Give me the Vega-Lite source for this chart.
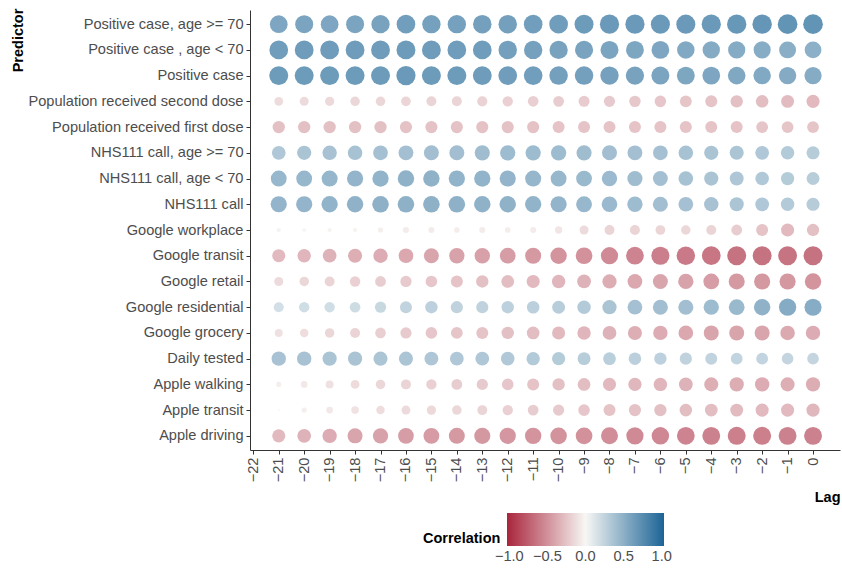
{
  "$schema": "https://vega.github.io/schema/vega-lite/v6.json",
  "autosize": "none",
  "width": 590,
  "height": 440,
  "padding": {"left": 250, "top": 10, "right": 2, "bottom": 118},
  "background": "white",
  "config": {
    "view": {"stroke": null},
    "font": "Liberation Sans",
    "axis": {"grid": false, "labelFont": "Liberation Sans", "labelFontSize": 14.6, "labelColor": "#4D4D4D", "labelLimit": 400, "tickColor": "#333333", "domainColor": "#333333", "tickSize": 4, "titleFont": "Liberation Sans", "titleFontSize": 14.5, "titleFontWeight": "bold", "titleColor": "#000000"}
  },
  "data": {"values": [
{"p":"Positive case, age >= 70","lag":-21,"r":0.70},{"p":"Positive case, age >= 70","lag":-20,"r":0.72},{"p":"Positive case, age >= 70","lag":-19,"r":0.70},{"p":"Positive case, age >= 70","lag":-18,"r":0.72},{"p":"Positive case, age >= 70","lag":-17,"r":0.74},{"p":"Positive case, age >= 70","lag":-16,"r":0.77},{"p":"Positive case, age >= 70","lag":-15,"r":0.75},{"p":"Positive case, age >= 70","lag":-14,"r":0.75},{"p":"Positive case, age >= 70","lag":-13,"r":0.76},{"p":"Positive case, age >= 70","lag":-12,"r":0.76},{"p":"Positive case, age >= 70","lag":-11,"r":0.77},{"p":"Positive case, age >= 70","lag":-10,"r":0.78},{"p":"Positive case, age >= 70","lag":-9,"r":0.80},{"p":"Positive case, age >= 70","lag":-8,"r":0.82},{"p":"Positive case, age >= 70","lag":-7,"r":0.82},{"p":"Positive case, age >= 70","lag":-6,"r":0.81},{"p":"Positive case, age >= 70","lag":-5,"r":0.81},{"p":"Positive case, age >= 70","lag":-4,"r":0.82},{"p":"Positive case, age >= 70","lag":-3,"r":0.83},{"p":"Positive case, age >= 70","lag":-2,"r":0.84},{"p":"Positive case, age >= 70","lag":-1,"r":0.86},{"p":"Positive case, age >= 70","lag":0,"r":0.86},
{"p":"Positive case , age < 70","lag":-21,"r":0.78},{"p":"Positive case , age < 70","lag":-20,"r":0.79},{"p":"Positive case , age < 70","lag":-19,"r":0.79},{"p":"Positive case , age < 70","lag":-18,"r":0.79},{"p":"Positive case , age < 70","lag":-17,"r":0.79},{"p":"Positive case , age < 70","lag":-16,"r":0.80},{"p":"Positive case , age < 70","lag":-15,"r":0.79},{"p":"Positive case , age < 70","lag":-14,"r":0.78},{"p":"Positive case , age < 70","lag":-13,"r":0.78},{"p":"Positive case , age < 70","lag":-12,"r":0.76},{"p":"Positive case , age < 70","lag":-11,"r":0.75},{"p":"Positive case , age < 70","lag":-10,"r":0.74},{"p":"Positive case , age < 70","lag":-9,"r":0.73},{"p":"Positive case , age < 70","lag":-8,"r":0.72},{"p":"Positive case , age < 70","lag":-7,"r":0.71},{"p":"Positive case , age < 70","lag":-6,"r":0.70},{"p":"Positive case , age < 70","lag":-5,"r":0.68},{"p":"Positive case , age < 70","lag":-4,"r":0.67},{"p":"Positive case , age < 70","lag":-3,"r":0.66},{"p":"Positive case , age < 70","lag":-2,"r":0.65},{"p":"Positive case , age < 70","lag":-1,"r":0.64},{"p":"Positive case , age < 70","lag":0,"r":0.62},
{"p":"Positive case","lag":-21,"r":0.80},{"p":"Positive case","lag":-20,"r":0.80},{"p":"Positive case","lag":-19,"r":0.80},{"p":"Positive case","lag":-18,"r":0.80},{"p":"Positive case","lag":-17,"r":0.80},{"p":"Positive case","lag":-16,"r":0.82},{"p":"Positive case","lag":-15,"r":0.80},{"p":"Positive case","lag":-14,"r":0.80},{"p":"Positive case","lag":-13,"r":0.79},{"p":"Positive case","lag":-12,"r":0.78},{"p":"Positive case","lag":-11,"r":0.77},{"p":"Positive case","lag":-10,"r":0.76},{"p":"Positive case","lag":-9,"r":0.76},{"p":"Positive case","lag":-8,"r":0.75},{"p":"Positive case","lag":-7,"r":0.74},{"p":"Positive case","lag":-6,"r":0.72},{"p":"Positive case","lag":-5,"r":0.71},{"p":"Positive case","lag":-4,"r":0.70},{"p":"Positive case","lag":-3,"r":0.69},{"p":"Positive case","lag":-2,"r":0.68},{"p":"Positive case","lag":-1,"r":0.67},{"p":"Positive case","lag":0,"r":0.66},
{"p":"Population received second dose","lag":-21,"r":-0.17},{"p":"Population received second dose","lag":-20,"r":-0.18},{"p":"Population received second dose","lag":-19,"r":-0.19},{"p":"Population received second dose","lag":-18,"r":-0.20},{"p":"Population received second dose","lag":-17,"r":-0.20},{"p":"Population received second dose","lag":-16,"r":-0.21},{"p":"Population received second dose","lag":-15,"r":-0.22},{"p":"Population received second dose","lag":-14,"r":-0.22},{"p":"Population received second dose","lag":-13,"r":-0.23},{"p":"Population received second dose","lag":-12,"r":-0.24},{"p":"Population received second dose","lag":-11,"r":-0.25},{"p":"Population received second dose","lag":-10,"r":-0.26},{"p":"Population received second dose","lag":-9,"r":-0.27},{"p":"Population received second dose","lag":-8,"r":-0.28},{"p":"Population received second dose","lag":-7,"r":-0.29},{"p":"Population received second dose","lag":-6,"r":-0.30},{"p":"Population received second dose","lag":-5,"r":-0.31},{"p":"Population received second dose","lag":-4,"r":-0.32},{"p":"Population received second dose","lag":-3,"r":-0.34},{"p":"Population received second dose","lag":-2,"r":-0.35},{"p":"Population received second dose","lag":-1,"r":-0.37},{"p":"Population received second dose","lag":0,"r":-0.38},
{"p":"Population received first dose","lag":-21,"r":-0.34},{"p":"Population received first dose","lag":-20,"r":-0.34},{"p":"Population received first dose","lag":-19,"r":-0.34},{"p":"Population received first dose","lag":-18,"r":-0.34},{"p":"Population received first dose","lag":-17,"r":-0.34},{"p":"Population received first dose","lag":-16,"r":-0.33},{"p":"Population received first dose","lag":-15,"r":-0.33},{"p":"Population received first dose","lag":-14,"r":-0.33},{"p":"Population received first dose","lag":-13,"r":-0.33},{"p":"Population received first dose","lag":-12,"r":-0.33},{"p":"Population received first dose","lag":-11,"r":-0.33},{"p":"Population received first dose","lag":-10,"r":-0.32},{"p":"Population received first dose","lag":-9,"r":-0.32},{"p":"Population received first dose","lag":-8,"r":-0.32},{"p":"Population received first dose","lag":-7,"r":-0.32},{"p":"Population received first dose","lag":-6,"r":-0.32},{"p":"Population received first dose","lag":-5,"r":-0.32},{"p":"Population received first dose","lag":-4,"r":-0.32},{"p":"Population received first dose","lag":-3,"r":-0.32},{"p":"Population received first dose","lag":-2,"r":-0.31},{"p":"Population received first dose","lag":-1,"r":-0.31},{"p":"Population received first dose","lag":0,"r":-0.31},
{"p":"NHS111 call, age >= 70","lag":-21,"r":0.42},{"p":"NHS111 call, age >= 70","lag":-20,"r":0.45},{"p":"NHS111 call, age >= 70","lag":-19,"r":0.46},{"p":"NHS111 call, age >= 70","lag":-18,"r":0.47},{"p":"NHS111 call, age >= 70","lag":-17,"r":0.48},{"p":"NHS111 call, age >= 70","lag":-16,"r":0.49},{"p":"NHS111 call, age >= 70","lag":-15,"r":0.50},{"p":"NHS111 call, age >= 70","lag":-14,"r":0.50},{"p":"NHS111 call, age >= 70","lag":-13,"r":0.51},{"p":"NHS111 call, age >= 70","lag":-12,"r":0.52},{"p":"NHS111 call, age >= 70","lag":-11,"r":0.52},{"p":"NHS111 call, age >= 70","lag":-10,"r":0.52},{"p":"NHS111 call, age >= 70","lag":-9,"r":0.51},{"p":"NHS111 call, age >= 70","lag":-8,"r":0.50},{"p":"NHS111 call, age >= 70","lag":-7,"r":0.49},{"p":"NHS111 call, age >= 70","lag":-6,"r":0.48},{"p":"NHS111 call, age >= 70","lag":-5,"r":0.47},{"p":"NHS111 call, age >= 70","lag":-4,"r":0.45},{"p":"NHS111 call, age >= 70","lag":-3,"r":0.44},{"p":"NHS111 call, age >= 70","lag":-2,"r":0.42},{"p":"NHS111 call, age >= 70","lag":-1,"r":0.40},{"p":"NHS111 call, age >= 70","lag":0,"r":0.38},
{"p":"NHS111 call, age < 70","lag":-21,"r":0.56},{"p":"NHS111 call, age < 70","lag":-20,"r":0.56},{"p":"NHS111 call, age < 70","lag":-19,"r":0.57},{"p":"NHS111 call, age < 70","lag":-18,"r":0.58},{"p":"NHS111 call, age < 70","lag":-17,"r":0.59},{"p":"NHS111 call, age < 70","lag":-16,"r":0.60},{"p":"NHS111 call, age < 70","lag":-15,"r":0.60},{"p":"NHS111 call, age < 70","lag":-14,"r":0.59},{"p":"NHS111 call, age < 70","lag":-13,"r":0.59},{"p":"NHS111 call, age < 70","lag":-12,"r":0.58},{"p":"NHS111 call, age < 70","lag":-11,"r":0.57},{"p":"NHS111 call, age < 70","lag":-10,"r":0.56},{"p":"NHS111 call, age < 70","lag":-9,"r":0.55},{"p":"NHS111 call, age < 70","lag":-8,"r":0.53},{"p":"NHS111 call, age < 70","lag":-7,"r":0.51},{"p":"NHS111 call, age < 70","lag":-6,"r":0.49},{"p":"NHS111 call, age < 70","lag":-5,"r":0.47},{"p":"NHS111 call, age < 70","lag":-4,"r":0.45},{"p":"NHS111 call, age < 70","lag":-3,"r":0.43},{"p":"NHS111 call, age < 70","lag":-2,"r":0.41},{"p":"NHS111 call, age < 70","lag":-1,"r":0.39},{"p":"NHS111 call, age < 70","lag":0,"r":0.37},
{"p":"NHS111 call","lag":-21,"r":0.58},{"p":"NHS111 call","lag":-20,"r":0.58},{"p":"NHS111 call","lag":-19,"r":0.59},{"p":"NHS111 call","lag":-18,"r":0.60},{"p":"NHS111 call","lag":-17,"r":0.61},{"p":"NHS111 call","lag":-16,"r":0.61},{"p":"NHS111 call","lag":-15,"r":0.61},{"p":"NHS111 call","lag":-14,"r":0.61},{"p":"NHS111 call","lag":-13,"r":0.60},{"p":"NHS111 call","lag":-12,"r":0.60},{"p":"NHS111 call","lag":-11,"r":0.59},{"p":"NHS111 call","lag":-10,"r":0.58},{"p":"NHS111 call","lag":-9,"r":0.56},{"p":"NHS111 call","lag":-8,"r":0.54},{"p":"NHS111 call","lag":-7,"r":0.52},{"p":"NHS111 call","lag":-6,"r":0.50},{"p":"NHS111 call","lag":-5,"r":0.48},{"p":"NHS111 call","lag":-4,"r":0.46},{"p":"NHS111 call","lag":-3,"r":0.44},{"p":"NHS111 call","lag":-2,"r":0.42},{"p":"NHS111 call","lag":-1,"r":0.40},{"p":"NHS111 call","lag":0,"r":0.38},
{"p":"Google workplace","lag":-21,"r":-0.04},{"p":"Google workplace","lag":-20,"r":-0.03},{"p":"Google workplace","lag":-19,"r":-0.04},{"p":"Google workplace","lag":-18,"r":-0.04},{"p":"Google workplace","lag":-17,"r":-0.06},{"p":"Google workplace","lag":-16,"r":-0.08},{"p":"Google workplace","lag":-15,"r":-0.08},{"p":"Google workplace","lag":-14,"r":-0.07},{"p":"Google workplace","lag":-13,"r":-0.08},{"p":"Google workplace","lag":-12,"r":-0.07},{"p":"Google workplace","lag":-11,"r":-0.08},{"p":"Google workplace","lag":-10,"r":-0.12},{"p":"Google workplace","lag":-9,"r":-0.18},{"p":"Google workplace","lag":-8,"r":-0.22},{"p":"Google workplace","lag":-7,"r":-0.22},{"p":"Google workplace","lag":-6,"r":-0.21},{"p":"Google workplace","lag":-5,"r":-0.20},{"p":"Google workplace","lag":-4,"r":-0.22},{"p":"Google workplace","lag":-3,"r":-0.26},{"p":"Google workplace","lag":-2,"r":-0.32},{"p":"Google workplace","lag":-1,"r":-0.38},{"p":"Google workplace","lag":0,"r":-0.34},
{"p":"Google transit","lag":-21,"r":-0.38},{"p":"Google transit","lag":-20,"r":-0.40},{"p":"Google transit","lag":-19,"r":-0.42},{"p":"Google transit","lag":-18,"r":-0.44},{"p":"Google transit","lag":-17,"r":-0.46},{"p":"Google transit","lag":-16,"r":-0.48},{"p":"Google transit","lag":-15,"r":-0.50},{"p":"Google transit","lag":-14,"r":-0.52},{"p":"Google transit","lag":-13,"r":-0.53},{"p":"Google transit","lag":-12,"r":-0.55},{"p":"Google transit","lag":-11,"r":-0.57},{"p":"Google transit","lag":-10,"r":-0.60},{"p":"Google transit","lag":-9,"r":-0.62},{"p":"Google transit","lag":-8,"r":-0.66},{"p":"Google transit","lag":-7,"r":-0.70},{"p":"Google transit","lag":-6,"r":-0.73},{"p":"Google transit","lag":-5,"r":-0.76},{"p":"Google transit","lag":-4,"r":-0.78},{"p":"Google transit","lag":-3,"r":-0.80},{"p":"Google transit","lag":-2,"r":-0.80},{"p":"Google transit","lag":-1,"r":-0.79},{"p":"Google transit","lag":0,"r":-0.80},
{"p":"Google retail","lag":-21,"r":-0.18},{"p":"Google retail","lag":-20,"r":-0.20},{"p":"Google retail","lag":-19,"r":-0.22},{"p":"Google retail","lag":-18,"r":-0.24},{"p":"Google retail","lag":-17,"r":-0.26},{"p":"Google retail","lag":-16,"r":-0.28},{"p":"Google retail","lag":-15,"r":-0.30},{"p":"Google retail","lag":-14,"r":-0.32},{"p":"Google retail","lag":-13,"r":-0.34},{"p":"Google retail","lag":-12,"r":-0.36},{"p":"Google retail","lag":-11,"r":-0.38},{"p":"Google retail","lag":-10,"r":-0.40},{"p":"Google retail","lag":-9,"r":-0.42},{"p":"Google retail","lag":-8,"r":-0.45},{"p":"Google retail","lag":-7,"r":-0.48},{"p":"Google retail","lag":-6,"r":-0.50},{"p":"Google retail","lag":-5,"r":-0.52},{"p":"Google retail","lag":-4,"r":-0.55},{"p":"Google retail","lag":-3,"r":-0.57},{"p":"Google retail","lag":-2,"r":-0.58},{"p":"Google retail","lag":-1,"r":-0.58},{"p":"Google retail","lag":0,"r":-0.60},
{"p":"Google residential","lag":-21,"r":0.22},{"p":"Google residential","lag":-20,"r":0.24},{"p":"Google residential","lag":-19,"r":0.24},{"p":"Google residential","lag":-18,"r":0.25},{"p":"Google residential","lag":-17,"r":0.28},{"p":"Google residential","lag":-16,"r":0.32},{"p":"Google residential","lag":-15,"r":0.34},{"p":"Google residential","lag":-14,"r":0.33},{"p":"Google residential","lag":-13,"r":0.33},{"p":"Google residential","lag":-12,"r":0.34},{"p":"Google residential","lag":-11,"r":0.35},{"p":"Google residential","lag":-10,"r":0.37},{"p":"Google residential","lag":-9,"r":0.40},{"p":"Google residential","lag":-8,"r":0.45},{"p":"Google residential","lag":-7,"r":0.48},{"p":"Google residential","lag":-6,"r":0.50},{"p":"Google residential","lag":-5,"r":0.50},{"p":"Google residential","lag":-4,"r":0.52},{"p":"Google residential","lag":-3,"r":0.55},{"p":"Google residential","lag":-2,"r":0.60},{"p":"Google residential","lag":-1,"r":0.66},{"p":"Google residential","lag":0,"r":0.65},
{"p":"Google grocery","lag":-21,"r":-0.14},{"p":"Google grocery","lag":-20,"r":-0.16},{"p":"Google grocery","lag":-19,"r":-0.20},{"p":"Google grocery","lag":-18,"r":-0.22},{"p":"Google grocery","lag":-17,"r":-0.25},{"p":"Google grocery","lag":-16,"r":-0.28},{"p":"Google grocery","lag":-15,"r":-0.30},{"p":"Google grocery","lag":-14,"r":-0.31},{"p":"Google grocery","lag":-13,"r":-0.32},{"p":"Google grocery","lag":-12,"r":-0.34},{"p":"Google grocery","lag":-11,"r":-0.36},{"p":"Google grocery","lag":-10,"r":-0.38},{"p":"Google grocery","lag":-9,"r":-0.40},{"p":"Google grocery","lag":-8,"r":-0.42},{"p":"Google grocery","lag":-7,"r":-0.44},{"p":"Google grocery","lag":-6,"r":-0.46},{"p":"Google grocery","lag":-5,"r":-0.48},{"p":"Google grocery","lag":-4,"r":-0.50},{"p":"Google grocery","lag":-3,"r":-0.50},{"p":"Google grocery","lag":-2,"r":-0.50},{"p":"Google grocery","lag":-1,"r":-0.47},{"p":"Google grocery","lag":0,"r":-0.46},
{"p":"Daily tested","lag":-21,"r":0.46},{"p":"Daily tested","lag":-20,"r":0.46},{"p":"Daily tested","lag":-19,"r":0.45},{"p":"Daily tested","lag":-18,"r":0.45},{"p":"Daily tested","lag":-17,"r":0.44},{"p":"Daily tested","lag":-16,"r":0.44},{"p":"Daily tested","lag":-15,"r":0.43},{"p":"Daily tested","lag":-14,"r":0.42},{"p":"Daily tested","lag":-13,"r":0.42},{"p":"Daily tested","lag":-12,"r":0.41},{"p":"Daily tested","lag":-11,"r":0.40},{"p":"Daily tested","lag":-10,"r":0.39},{"p":"Daily tested","lag":-9,"r":0.37},{"p":"Daily tested","lag":-8,"r":0.36},{"p":"Daily tested","lag":-7,"r":0.35},{"p":"Daily tested","lag":-6,"r":0.34},{"p":"Daily tested","lag":-5,"r":0.33},{"p":"Daily tested","lag":-4,"r":0.32},{"p":"Daily tested","lag":-3,"r":0.31},{"p":"Daily tested","lag":-2,"r":0.31},{"p":"Daily tested","lag":-1,"r":0.30},{"p":"Daily tested","lag":0,"r":0.30},
{"p":"Apple walking","lag":-21,"r":-0.06},{"p":"Apple walking","lag":-20,"r":-0.10},{"p":"Apple walking","lag":-19,"r":-0.14},{"p":"Apple walking","lag":-18,"r":-0.17},{"p":"Apple walking","lag":-17,"r":-0.20},{"p":"Apple walking","lag":-16,"r":-0.22},{"p":"Apple walking","lag":-15,"r":-0.24},{"p":"Apple walking","lag":-14,"r":-0.26},{"p":"Apple walking","lag":-13,"r":-0.28},{"p":"Apple walking","lag":-12,"r":-0.30},{"p":"Apple walking","lag":-11,"r":-0.32},{"p":"Apple walking","lag":-10,"r":-0.34},{"p":"Apple walking","lag":-9,"r":-0.36},{"p":"Apple walking","lag":-8,"r":-0.38},{"p":"Apple walking","lag":-7,"r":-0.39},{"p":"Apple walking","lag":-6,"r":-0.40},{"p":"Apple walking","lag":-5,"r":-0.42},{"p":"Apple walking","lag":-4,"r":-0.44},{"p":"Apple walking","lag":-3,"r":-0.45},{"p":"Apple walking","lag":-2,"r":-0.46},{"p":"Apple walking","lag":-1,"r":-0.44},{"p":"Apple walking","lag":0,"r":-0.45},
{"p":"Apple transit","lag":-21,"r":-0.01},{"p":"Apple transit","lag":-20,"r":-0.06},{"p":"Apple transit","lag":-19,"r":-0.10},{"p":"Apple transit","lag":-18,"r":-0.13},{"p":"Apple transit","lag":-17,"r":-0.16},{"p":"Apple transit","lag":-16,"r":-0.18},{"p":"Apple transit","lag":-15,"r":-0.19},{"p":"Apple transit","lag":-14,"r":-0.20},{"p":"Apple transit","lag":-13,"r":-0.22},{"p":"Apple transit","lag":-12,"r":-0.24},{"p":"Apple transit","lag":-11,"r":-0.26},{"p":"Apple transit","lag":-10,"r":-0.28},{"p":"Apple transit","lag":-9,"r":-0.30},{"p":"Apple transit","lag":-8,"r":-0.32},{"p":"Apple transit","lag":-7,"r":-0.33},{"p":"Apple transit","lag":-6,"r":-0.34},{"p":"Apple transit","lag":-5,"r":-0.35},{"p":"Apple transit","lag":-4,"r":-0.36},{"p":"Apple transit","lag":-3,"r":-0.37},{"p":"Apple transit","lag":-2,"r":-0.38},{"p":"Apple transit","lag":-1,"r":-0.38},{"p":"Apple transit","lag":0,"r":-0.39},
{"p":"Apple driving","lag":-21,"r":-0.38},{"p":"Apple driving","lag":-20,"r":-0.42},{"p":"Apple driving","lag":-19,"r":-0.46},{"p":"Apple driving","lag":-18,"r":-0.50},{"p":"Apple driving","lag":-17,"r":-0.52},{"p":"Apple driving","lag":-16,"r":-0.55},{"p":"Apple driving","lag":-15,"r":-0.56},{"p":"Apple driving","lag":-14,"r":-0.57},{"p":"Apple driving","lag":-13,"r":-0.58},{"p":"Apple driving","lag":-12,"r":-0.59},{"p":"Apple driving","lag":-11,"r":-0.60},{"p":"Apple driving","lag":-10,"r":-0.61},{"p":"Apple driving","lag":-9,"r":-0.62},{"p":"Apple driving","lag":-8,"r":-0.64},{"p":"Apple driving","lag":-7,"r":-0.66},{"p":"Apple driving","lag":-6,"r":-0.68},{"p":"Apple driving","lag":-5,"r":-0.70},{"p":"Apple driving","lag":-4,"r":-0.71},{"p":"Apple driving","lag":-3,"r":-0.72},{"p":"Apple driving","lag":-2,"r":-0.72},{"p":"Apple driving","lag":-1,"r":-0.71},{"p":"Apple driving","lag":0,"r":-0.71}
  ]},
  "transform": [{"calculate": "abs(datum.r)", "as": "absr"}],
  "mark": {"type": "circle", "fillOpacity": 0.82},
  "encoding": {
    "x": {"field": "lag", "type": "quantitative", "title": "Lag",
      "scale": {"domain": [-22.13, 1.06], "nice": false, "zero": false},
      "axis": {"values": [-22,-21,-20,-19,-18,-17,-16,-15,-14,-13,-12,-11,-10,-9,-8,-7,-6,-5,-4,-3,-2,-1,0], "format": "d", "labelAngle": -90, "labelPadding": 3, "titleAnchor": "end", "titleAlign": "right", "titleX": 590, "titleY": 51, "titleBaseline": "alphabetic"}},
    "y": {"field": "p", "type": "nominal", "title": "Predictor",
      "sort": ["Positive case, age >= 70","Positive case , age < 70","Positive case","Population received second dose","Population received first dose","NHS111 call, age >= 70","NHS111 call, age < 70","NHS111 call","Google workplace","Google transit","Google retail","Google residential","Google grocery","Daily tested","Apple walking","Apple transit","Apple driving"],
      "scale": {"type": "point", "padding": 0.55},
      "axis": {"labelPadding": 3, "titleAngle": 270, "titleX": -232, "titleY": 30, "titleAlign": "center", "titleBaseline": "middle", "titleAnchor": "end"}},
    "color": {"field": "r", "type": "quantitative", "title": "Correlation",
      "scale": {"domain": [-1.03, 0, 1.03], "range": ["#A9253C", "#F7F7F4", "#1C6496"], "interpolate": "rgb"},
      "legend": {"orient": "none", "direction": "horizontal", "legendX": 173, "legendY": 503, "titleOrient": "left", "gradientLength": 157, "gradientThickness": 33, "values": [-1, -0.5, 0, 0.5, 1], "format": ".1f", "labelOverlap": false, "labelFont": "Liberation Sans", "labelFontSize": 14.6, "labelColor": "#4D4D4D", "labelOffset": 3, "titleFont": "Liberation Sans", "titleFontSize": 14.5, "titleFontWeight": "bold", "titleColor": "#000000", "titleBaseline": "bottom", "titleAnchor": "end", "titlePadding": 6, "gradientStrokeWidth": 0}},
    "size": {"field": "absr", "type": "quantitative", "scale": {"domain": [0, 1], "range": [0, 450]}, "legend": null}
  }
}
